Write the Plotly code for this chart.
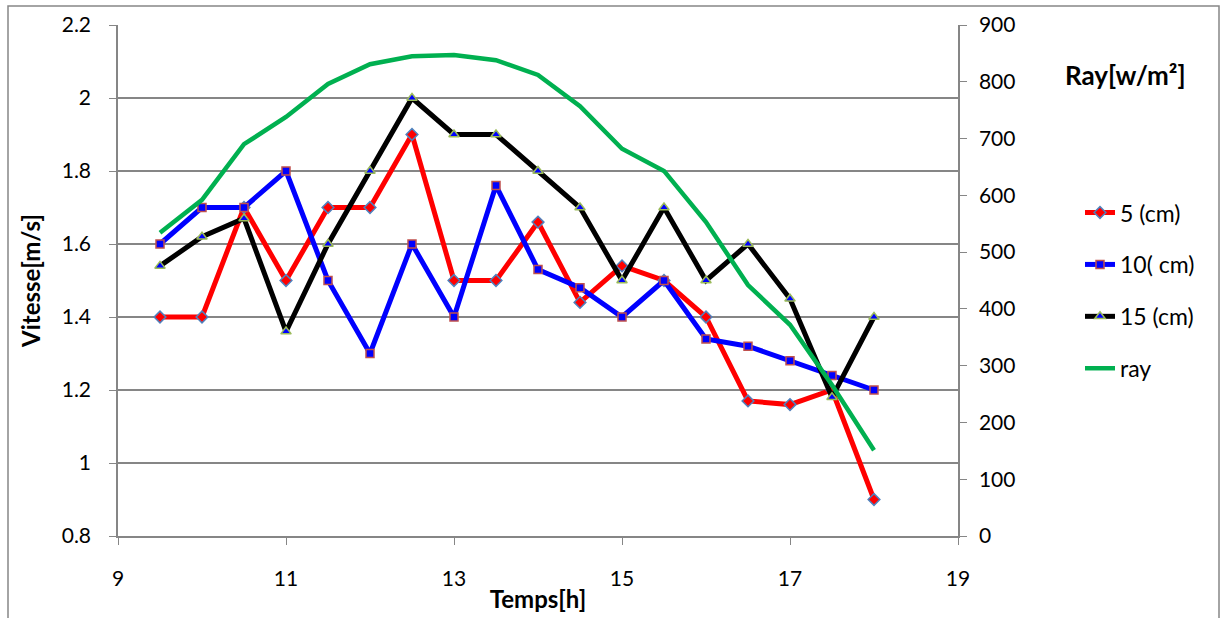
import plotly.graph_objects as go

hours = [9.5, 10, 10.5, 11, 11.5, 12, 12.5, 13, 13.5, 14, 14.5, 15, 15.5, 16, 16.5, 17, 17.5, 18]
v5 = [1.4, 1.4, 1.7, 1.5, 1.7, 1.7, 1.9, 1.5, 1.5, 1.66, 1.44, 1.54, 1.5, 1.4, 1.17, 1.16, 1.2, 0.9]
v10 = [1.6, 1.7, 1.7, 1.8, 1.5, 1.3, 1.6, 1.4, 1.76, 1.53, 1.48, 1.4, 1.5, 1.34, 1.32, 1.28, 1.24, 1.2]
v15 = [1.54, 1.62, 1.67, 1.36, 1.6, 1.8, 2.0, 1.9, 1.9, 1.8, 1.7, 1.5, 1.7, 1.5, 1.6, 1.45, 1.18, 1.4]
ray = [534, 592, 690, 738, 796, 831, 845, 847, 838, 812, 757, 682, 643, 553, 442, 372, 266, 151]

left_ticks = [0.8, 1.0, 1.2, 1.4, 1.6, 1.8, 2.0, 2.2]
left_labels = ["0.8", "1", "1.2", "1.4", "1.6", "1.8", "2", "2.2"]
right_ticks = [0, 100, 200, 300, 400, 500, 600, 700, 800, 900]
x_ticks = [9, 11, 13, 15, 17, 19]

FONT = "Lato"
fig = go.Figure()

fig.add_trace(go.Scatter(x=hours, y=v5, name="5 (cm)", mode="lines+markers", legendgroup="a",
                         line=dict(color="#FF0000", width=5),
                         marker=dict(symbol="diamond", size=9, color="#FF0000",
                                     line=dict(color="#4F81BD", width=1.5))))
fig.add_trace(go.Scatter(x=hours, y=v10, name="10( cm)", mode="lines+markers", legendgroup="b",
                         line=dict(color="#0000FF", width=5),
                         marker=dict(symbol="square", size=8, color="#0000FF",
                                     line=dict(color="#C0504D", width=1.5))))
fig.add_trace(go.Scatter(x=hours, y=v15, name="15 (cm)", mode="lines+markers", legendgroup="c",
                         line=dict(color="#000000", width=5),
                         marker=dict(symbol="triangle-up", size=9, color="#0000FF",
                                     line=dict(color="#9BBB59", width=1.5))))
fig.add_trace(go.Scatter(x=hours, y=ray, name="ray", mode="lines", legendgroup="d", yaxis="y2",
                         line=dict(color="#00B050", width=4.5)))

axis_common = dict(showline=True, linecolor="#868686", linewidth=1.5, ticks="outside",
                   tickcolor="#868686", ticklen=7, tickfont=dict(family=FONT, size=21, color="#000"),
                   zeroline=False, automargin=False)

fig.update_layout(
    width=1224, height=618,
    margin=dict(l=118, r=266, t=25, b=82),
    paper_bgcolor="white", plot_bgcolor="white",
    font=dict(family=FONT, size=21, color="#000"),
    xaxis=dict(range=[9, 19], tickvals=x_ticks, showgrid=False, ticklabelstandoff=16,
               title=dict(text="<b>Temps[h]</b>", font=dict(family=FONT, size=24), standoff=2),
               **axis_common),
    yaxis=dict(range=[0.8, 2.2], tickvals=left_ticks, ticktext=left_labels,
               showgrid=True, gridcolor="#868686", gridwidth=1.5, ticklabelstandoff=14,
               title=dict(text="<b>Vitesse[m/s]</b>", font=dict(family=FONT, size=24), standoff=14),
               **axis_common),
    yaxis2=dict(range=[0, 900], tickvals=right_ticks, overlaying="y", side="right",
                showgrid=False, ticklabelstandoff=8, **axis_common),
    legend=dict(x=(1080 - 118) / 840, y=0.675, xanchor="left", yanchor="top", tracegroupgap=19,
                font=dict(family=FONT, size=23), bgcolor="rgba(0,0,0,0)"),
    annotations=[dict(text="<b>Ray[w/m²]</b>", xref="paper", yref="paper",
                      x=(1125 - 118) / 840, y=(536 - 75) / 511, showarrow=False,
                      font=dict(family=FONT, size=26), xanchor="center", yanchor="middle")],
    shapes=[dict(type="rect", xref="paper", yref="paper",
                 x0=(8 - 118) / 840, x1=(1219 - 118) / 840,
                 y0=(536 - 640) / 511, y1=(536 - 6) / 511,
                 line=dict(color="#868686", width=1.5), layer="below")],
)

fig.write_html("out.html")
